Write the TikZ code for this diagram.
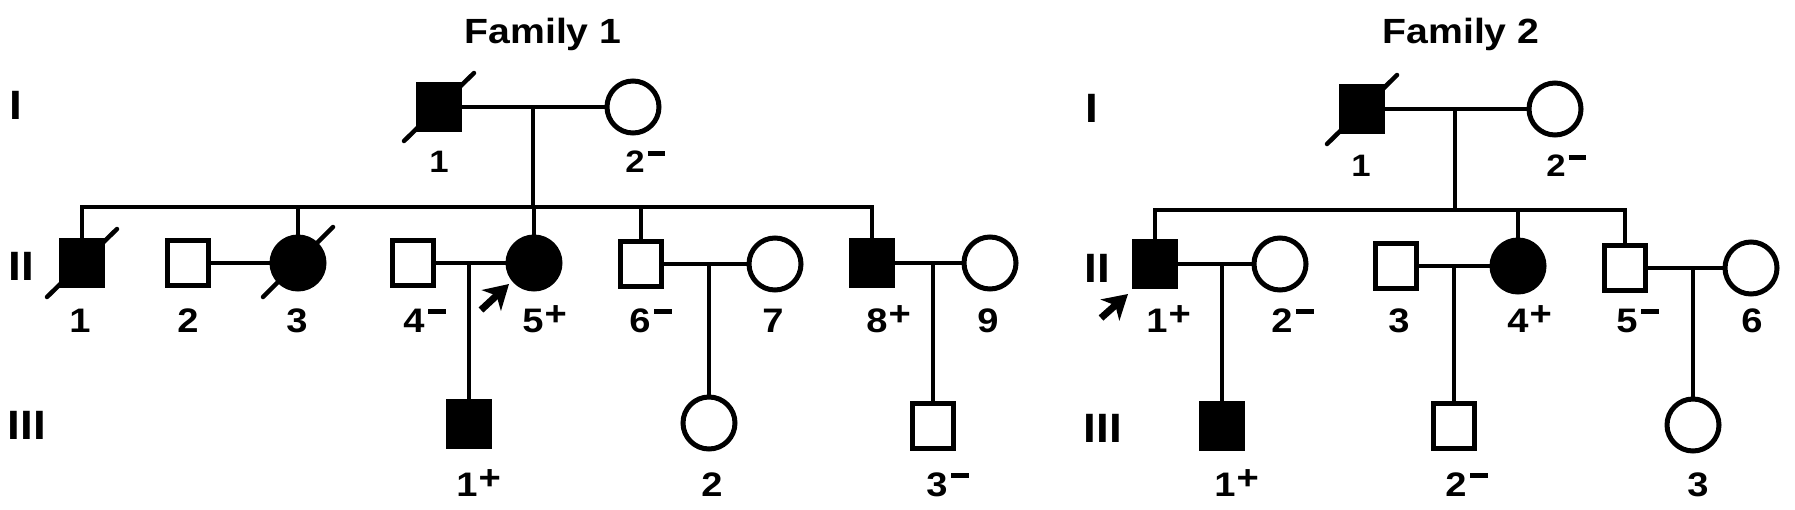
\documentclass[tikz,border=0pt]{standalone}
\usepackage{fontspec}
\setmainfont{Liberation Sans}[FakeStretch=1.12]
\usetikzlibrary{arrows.meta}
\newcommand{\Pl}{\rlap{\kern1pt\raisebox{7pt}{+}}}
\newcommand{\Mn}{\rlap{\kern3pt\rule[18pt]{18pt}{5.5pt}}}
\newcommand{\MnI}{\rlap{\kern3pt\rule[16pt]{17pt}{5pt}}}
\tikzset{
  sq/.style={rectangle, draw, line width=5pt, minimum width=41pt, minimum height=45pt, inner sep=0pt},
  ci/.style={circle, draw, line width=5pt, minimum size=52pt, inner sep=0pt},
  aff/.style={fill=black},
  ln/.style={line width=3.8pt},
  dec/.style={line width=4.5pt, line cap=round},
  pro/.style={line width=7pt, -{Stealth[length=24pt,width=28pt,inset=7pt]}},
  lab/.style={font=\fontsize{34}{34}\selectfont\bfseries, inner sep=0pt, anchor=base},
  labI/.style={font=\fontsize{31}{31}\selectfont\bfseries, inner sep=0pt, anchor=base},
  gen/.style={font=\fontsize{41}{41}\selectfont\bfseries, inner sep=0pt, anchor=base},
  ttl/.style={font=\fontsize{35}{35}\selectfont\bfseries, inner sep=0pt, anchor=base},
}
\begin{document}
\begin{tikzpicture}[x=1pt, y=-1pt]
\useasboundingbox (0,0) rectangle (1795,509);
\fill[white] (0,0) rectangle (1795,509);

% ================= Family 1 =================
\node[ttl] (t1) at (543,43) {Family 1};
\node[gen] (g1a) at (15.5,119) {I};
\node[gen] (g1b) at (21.5,280) {II};
\node[gen] (g1c) at (27,439) {III};

% generation I
\node[sq, aff] (AI1) at (439,107) {};
\node[ci] (AI2) at (633,107) {};
% generation II
\node[sq, aff] (AII1) at (82,263) {};
\node[sq] (AII2) at (188,263) {};
\node[ci, aff] (AII3) at (298,263) {};
\node[sq] (AII4) at (413,263) {};
\node[ci, aff] (AII5) at (534,263) {};
\node[sq] (AII6) at (641,264) {};
\node[ci] (AII7) at (775,264) {};
\node[sq, aff] (AII8) at (872,263) {};
\node[ci] (AII9) at (990,263) {};
% generation III
\node[sq, aff] (AIII1) at (469,424) {};
\node[ci] (AIII2) at (709,423) {};
\node[sq] (AIII3) at (933,426) {};

\coordinate (Am) at (533,107);
\coordinate (As) at (533,207);

% connectors
\draw[ln] (AI1.east) -- (AI2.west);
\draw[ln] (Am) -- (As);
\draw[ln] (AII1.north) -- (AII1 |- As) -- (AII8 |- As) -- (AII8.north);
\draw[ln] (AII3 |- As) -- (AII3.north);
\draw[ln] (AII5 |- As) -- (AII5.north);
\draw[ln] (AII6 |- As) -- (AII6.north);
\draw[ln] (AII2.east) -- (AII3.west);
\draw[ln] (AII4.east) -- (AII5.west);
\draw[ln] (AII6.east) -- (AII7.west);
\draw[ln] (AII8.east) -- (AII9.west);
\draw[ln] (AIII1 |- AII4.east) -- (AIII1.north);
\draw[ln] (AIII2 |- AII6.east) -- (AIII2.north);
\draw[ln] (AIII3 |- AII8.east) -- (AIII3.north);

% deceased
\draw[dec] ([shift={(-12,9)}]AI1.south west) -- ([shift={(12,-9)}]AI1.north east);
\draw[dec] ([shift={(-12,9)}]AII1.south west) -- ([shift={(12,-9)}]AII1.north east);
\draw[dec] ([shift={(-35,34)}]AII3.center) -- ([shift={(35,-36)}]AII3.center);

% proband
\draw[pro] ([shift={(-53,47)}]AII5.center) -- ([shift={(-25,21)}]AII5.center);

% labels
\node[labI] (lAI1) at (439,172) {1};
\node[labI] (lAI2) at (635,172) {2\MnI};
\node[lab] (lAII1) at (80,332) {1};
\node[lab] (lAII2) at (188,332) {2};
\node[lab] (lAII3) at (297,332) {3};
\node[lab] (lAII4) at (414,332) {4\Mn};
\node[lab] (lAII5) at (533,332) {5\Pl};
\node[lab] (lAII6) at (640,332) {6\Mn};
\node[lab] (lAII7) at (773,332) {7};
\node[lab] (lAII8) at (877,332) {8\Pl};
\node[lab] (lAII9) at (988,332) {9};
\node[lab] (lAIII1) at (467,496) {1\Pl};
\node[lab] (lAIII2) at (712,496) {2};
\node[lab] (lAIII3) at (937,496) {3\Mn};

% ================= Family 2 =================
\node[ttl] (t2) at (1461,43) {Family 2};
\node[gen] (g2a) at (1092,122) {I};
\node[gen] (g2b) at (1097,282) {II};
\node[gen] (g2c) at (1103,442) {III};

\node[sq, aff] (BI1) at (1362,109) {};
\node[ci] (BI2) at (1555,109) {};
\node[sq, aff] (BII1) at (1155,264) {};
\node[ci] (BII2) at (1280,264) {};
\node[sq] (BII3) at (1396,266) {};
\node[ci, aff] (BII4) at (1518,266) {};
\node[sq] (BII5) at (1625,268) {};
\node[ci] (BII6) at (1751,268) {};
\node[sq, aff] (BIII1) at (1222,426) {};
\node[sq] (BIII2) at (1454,426) {};
\node[ci] (BIII3) at (1693,425) {};

\coordinate (Bm) at (1455,109);
\coordinate (Bs) at (1455,210);

\draw[ln] (BI1.east) -- (BI2.west);
\draw[ln] (Bm) -- (Bs);
\draw[ln] (BII1.north) -- (BII1 |- Bs) -- (BII5 |- Bs) -- (BII5.north);
\draw[ln] (BII4 |- Bs) -- (BII4.north);
\draw[ln] (BII1.east) -- (BII2.west);
\draw[ln] (BII3.east) -- (BII4.west);
\draw[ln] (BII5.east) -- (BII6.west);
\draw[ln] (BIII1 |- BII1.east) -- (BIII1.north);
\draw[ln] (BIII2 |- BII3.east) -- (BIII2.north);
\draw[ln] (BIII3 |- BII5.east) -- (BIII3.north);

\draw[dec] ([shift={(-12,10)}]BI1.south west) -- ([shift={(12,-9)}]BI1.north east);
\draw[pro] ([shift={(-54,54)}]BII1.center) -- ([shift={(-27,30)}]BII1.center);

\node[labI] (lBI1) at (1361,176) {1};
\node[labI] (lBI2) at (1556,176) {2\MnI};
\node[lab] (lBII1) at (1157,332) {1\Pl};
\node[lab] (lBII2) at (1282,332) {2\Mn};
\node[lab] (lBII3) at (1399,332) {3};
\node[lab] (lBII4) at (1518,332) {4\Pl};
\node[lab] (lBII5) at (1627,332) {5\Mn};
\node[lab] (lBII6) at (1752,332) {6};
\node[lab] (lBIII1) at (1225,496) {1\Pl};
\node[lab] (lBIII2) at (1456,496) {2\Mn};
\node[lab] (lBIII3) at (1698,496) {3};
\end{tikzpicture}
\end{document}
